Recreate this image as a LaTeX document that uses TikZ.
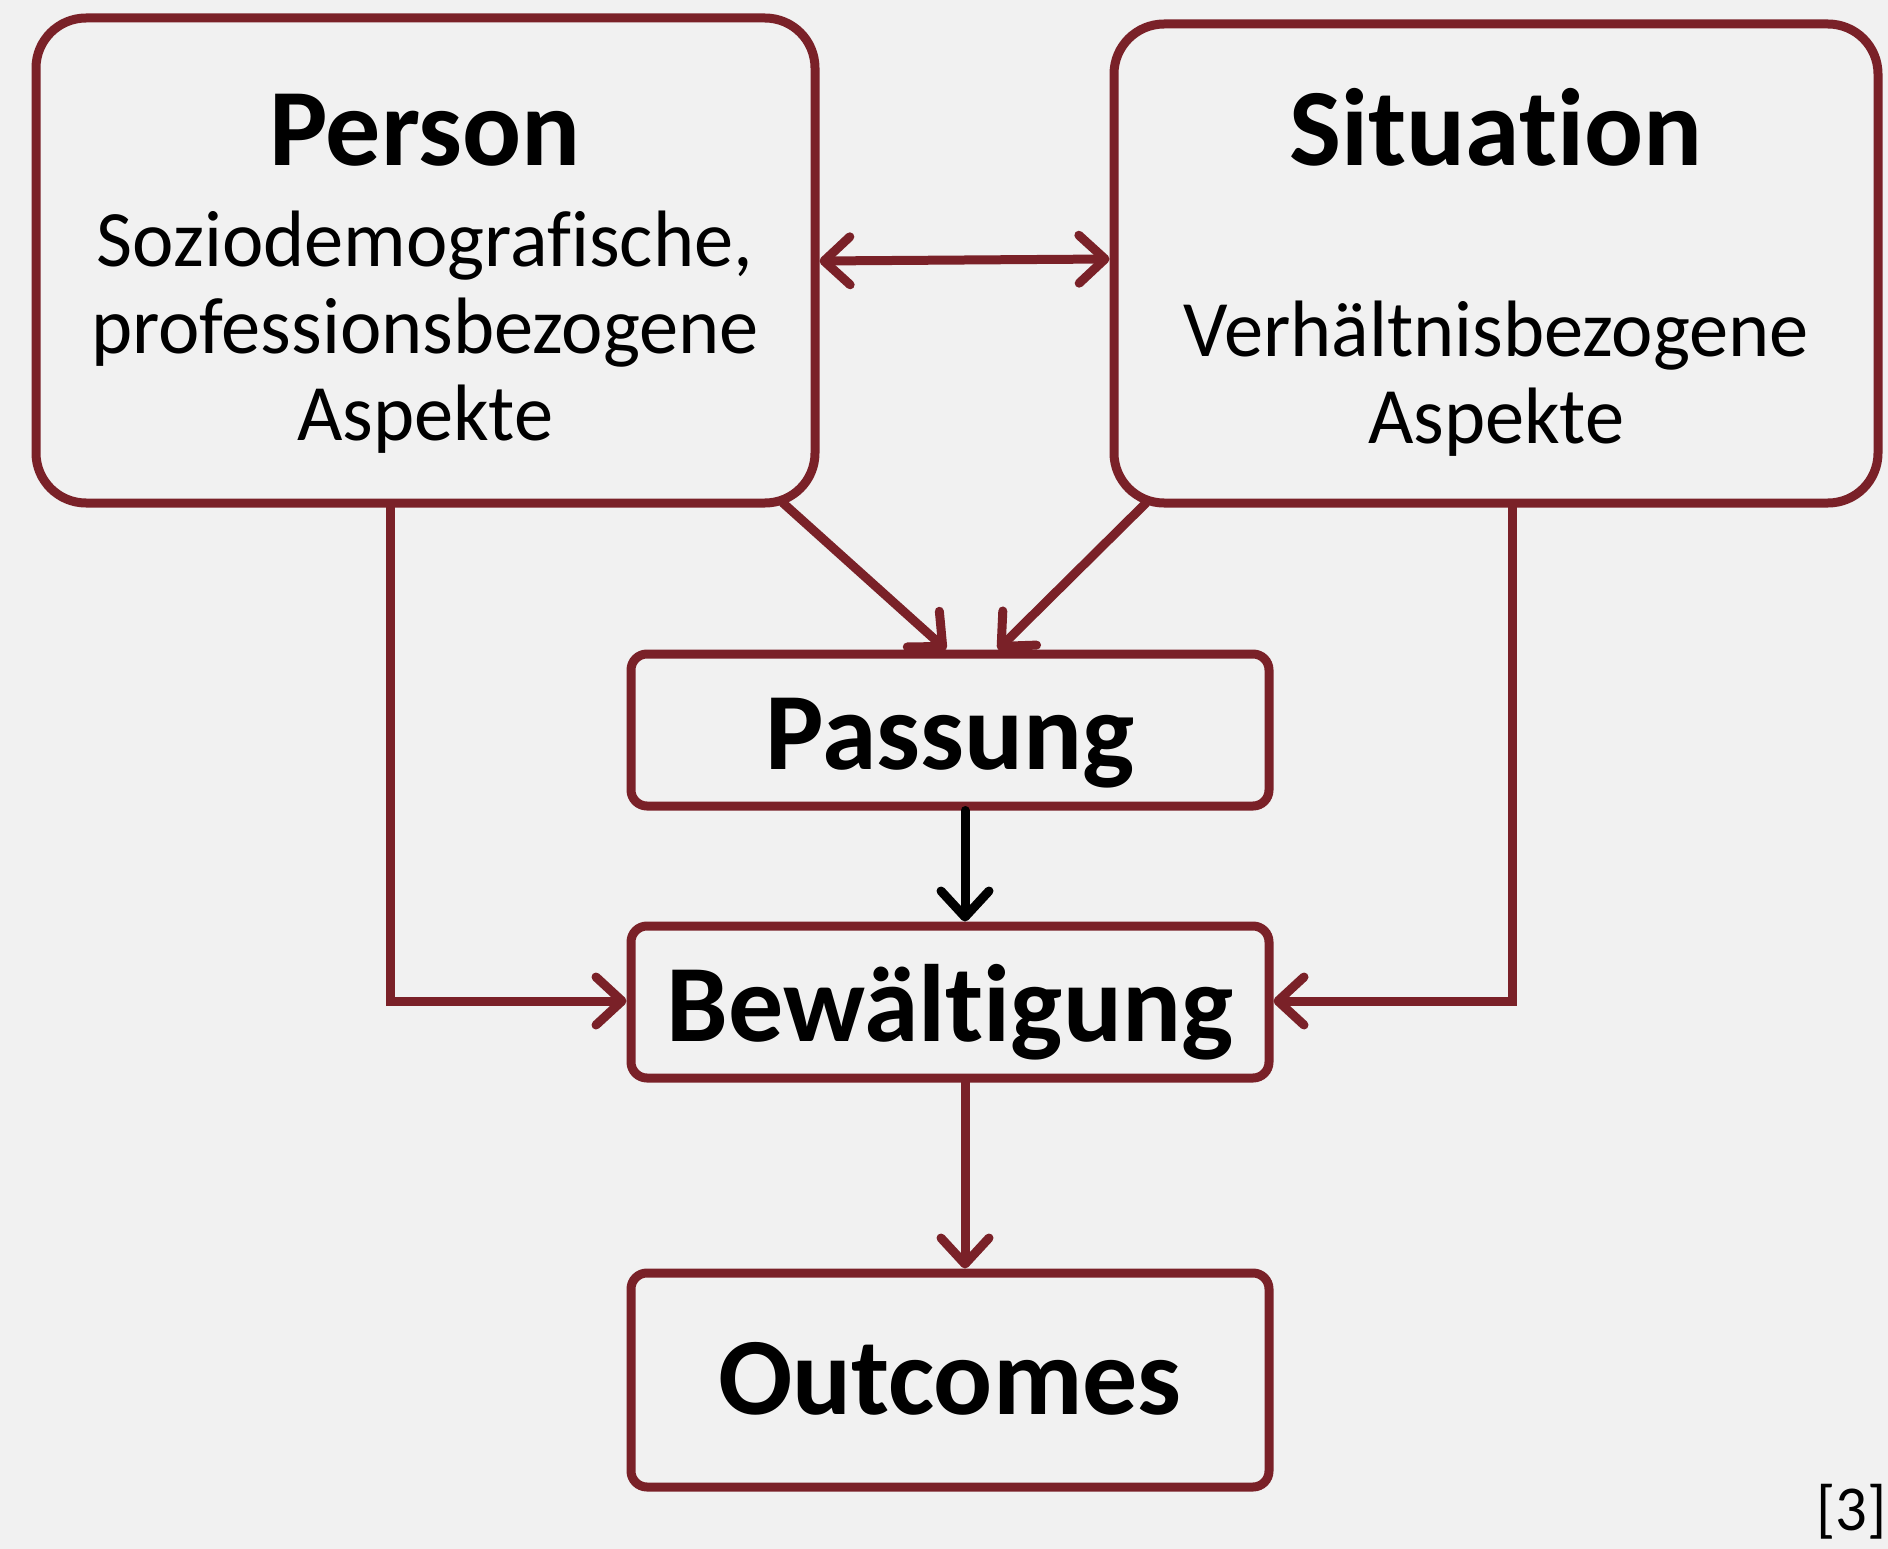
\documentclass[tikz,border=0pt]{standalone}
\usepackage{fontspec}
\setmainfont{Carlito}[Ligatures=NoCommon]
\newfontfamily\thinfont[FakeStretch=0.98,Ligatures=NoCommon]{Carlito}
\usetikzlibrary{arrows.meta}
\definecolor{dred}{HTML}{7A2128}
\definecolor{bg}{HTML}{F1F1F1}
\definecolor{pinkc}{HTML}{D98A8A}
\tikzset{
  barbtip/.tip={Straight Barb[length=26pt, width=48pt, line width=9pt, round]},
  box/.style={draw=dred, line width=9pt, rounded corners=#1, fill=bg, inner sep=0pt},
  title/.style={font=\fontsize{110}{114}\selectfont\bfseries, text=black, inner sep=0pt, anchor=base},
  sub/.style={font=\thinfont\fontsize{80}{87}\selectfont, text=black, inner sep=0pt, anchor=base},
  conn/.style={draw=dred, line width=9pt, line cap=round, line join=miter, -barbtip},
  bconn/.style={conn, draw=black},
}
\begin{document}
\begin{tikzpicture}[x=1pt, y=-1pt]
\fill[bg] (0,0) rectangle (1888,1549);
\useasboundingbox (0,0) rectangle (1888,1549);
\begin{scope}
\clip (0,0) rectangle (1888,1549);
\fill[pinkc] (-70,1625) circle (90);
\end{scope}
% boxes
\node[box=50pt, minimum width=779pt, minimum height=485pt] (person) at (425.5,260.5) {};
\node[box=50pt, minimum width=764pt, minimum height=479pt] (situation) at (1496,263.5) {};
\node[box=16pt, minimum width=638pt, minimum height=152pt] (passung) at (950,730) {};
\node[box=16pt, minimum width=638pt, minimum height=152pt] (bew) at (950,1002) {};
\node[box=16pt, minimum width=638pt, minimum height=214pt] (out) at (950,1380) {};
% texts
\node[title] (tperson) at (425,166) {Person};
\node[sub] (s1) at (425,266) {Soziodemografische,};
\node[sub] (s2) at (425,353) {professionsbezogene};
\node[sub] (s3) at (425,440) {Aspekte};
\node[title] (tsit) at (1496,166) {Situation};
\node[sub] (s4) at (1496,356) {Verhältnisbezogene};
\node[sub] (s5) at (1496,443) {Aspekte};
\node[title] (tpass) at (950,769) {Passung};
\node[title] (tbew) at (950,1041) {Bewältigung};
\node[title] (tout) at (950,1414) {Outcomes};
\node[font=\thinfont\fontsize{64}{70}\selectfont, anchor=base east, inner sep=0pt] (ref) at (1887,1530) {[3]};
% connectors
\coordinate (pb) at (783,503);
\coordinate (sb) at (1146,503);
\draw[conn, barbtip-barbtip] (person.east |- 0,261) -- (situation.west |- 0,259);
\draw[conn] (pb) -- (passung.north -| 946,0);
\draw[conn] (sb) -- (passung.north -| 998,0);
\draw[bconn] (passung.south -| 965,0) -- (bew.north -| 965,0);
\draw[conn] (bew.south -| 965,0) -- (out.north -| 965,0);
\draw[conn] (person.south -| 390,0) |- (bew.west |- 0,1001);
\draw[conn] (situation.south -| 1512,0) |- (bew.east |- 0,1001);
\end{tikzpicture}
\end{document}
